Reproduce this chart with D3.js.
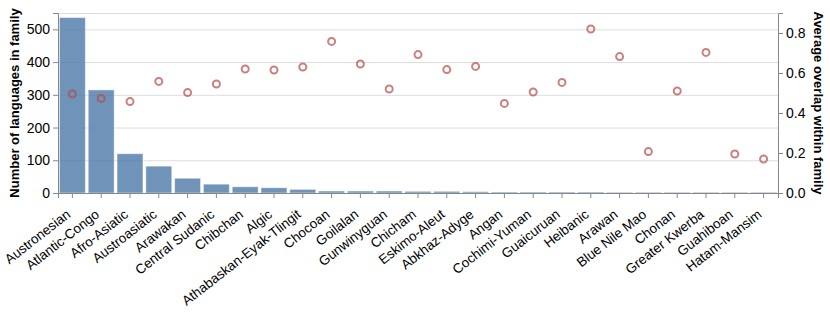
<!DOCTYPE html>
<html>
<head>
<meta charset="utf-8">
<script src="https://cdn.jsdelivr.net/npm/d3@7"></script>
<style>
  body { margin: 0; background: #fff; }
  text { font-family: "Liberation Sans", Arial, Helvetica, sans-serif; }
</style>
</head>
<body>
<svg id="chart" width="830" height="319"></svg>
<script>
// language families, sorted by number of languages
const families = ["Austronesian", "Atlantic-Congo", "Afro-Asiatic", "Austroasiatic", "Arawakan",
  "Central Sudanic", "Chibchan", "Algic", "Athabaskan-Eyak-Tlingit", "Chocoan", "Goilalan",
  "Gunwinyguan", "Chicham", "Eskimo-Aleut", "Abkhaz-Adyge", "Angan", "Cochimi-Yuman",
  "Guaicuruan", "Heibanic", "Arawan", "Blue Nile Mao", "Chonan", "Greater Kwerba",
  "Guahiboan", "Hatam-Mansim"];
// number of languages in each family
const counts = [536, 315, 120, 82, 45, 27, 19, 16, 11, 6, 6, 6, 5, 5, 4, 3, 3, 3, 3, 2, 2, 2, 2, 2, 2];
// average overlap within each family
const overlaps = [0.495, 0.473, 0.457, 0.558, 0.502, 0.545, 0.62, 0.615, 0.63, 0.758, 0.645,
  0.52, 0.692, 0.617, 0.633, 0.448, 0.505, 0.553, 0.82, 0.682, 0.207, 0.51, 0.703, 0.195, 0.17];
const countTicks = [0, 100, 200, 300, 400, 500];
const overlapTicks = [0, 0.2, 0.4, 0.6, 0.8];

const svg = d3.select("#chart");
const plotLeft = 58, plotRight = 778, plotTop = 13, plotBottom = 193;

let x = d3.scaleBand().domain(families).range([plotLeft, plotRight]).paddingInner(0.1).paddingOuter(0.05);
let yCount = d3.scaleLinear().domain([0, 550]).range([plotBottom, plotTop]);
let yOverlap = d3.scaleLinear().domain([0, 0.9]).range([plotBottom, plotTop]);

// gridlines for the left axis plus the frame top
svg.append("g")
   .selectAll("line")
   .data(countTicks)
   .enter()
   .append("line")
   .attr("x1", plotLeft).attr("x2", plotRight)
   .attr("y1", d => yCount(d) + 0.5).attr("y2", d => yCount(d) + 0.5)
   .attr("stroke", "#ddd");
svg.append("line")
   .attr("x1", plotLeft).attr("x2", plotRight)
   .attr("y1", plotTop + 0.5).attr("y2", plotTop + 0.5)
   .attr("stroke", "#ddd");

// bars
svg.append("g")
   .selectAll("rect")
   .data(families)
   .enter()
   .append("rect")
   .attr("x", d => x(d))
   .attr("width", x.bandwidth())
   .attr("y", (d, i) => yCount(counts[i]))
   .attr("height", (d, i) => plotBottom - yCount(counts[i]))
   .attr("fill", "#4c78a8")
   .attr("fill-opacity", 0.8)
   .attr("stroke", "#fff")
   .attr("stroke-opacity", 0.45)
   .attr("stroke-width", 1);

// overlap points
svg.append("g")
   .selectAll("circle")
   .data(families)
   .enter()
   .append("circle")
   .attr("cx", d => x(d) + x.bandwidth() / 2)
   .attr("cy", (d, i) => yOverlap(overlaps[i]))
   .attr("r", 3.5)
   .attr("fill", "none")
   .attr("stroke", "#b44a47")
   .attr("stroke-opacity", 0.7)
   .attr("stroke-width", 2);

function styleAxis(g, size) {
    g.selectAll(".domain").attr("stroke", "#888");
    g.selectAll(".tick line").attr("stroke", "#888");
    g.selectAll(".tick text").attr("fill", "#000").style("font-size", size);
}

// x axis
let xAxis = svg.append("g")
   .attr("transform", `translate(0,${plotBottom})`)
   .call(d3.axisBottom(x).tickSizeOuter(0).tickSize(5).tickPadding(3));
styleAxis(xAxis, "13.5px");
xAxis.selectAll(".tick text")
     .attr("text-anchor", "end")
     .attr("x", 0)
     .attr("y", 0)
     .attr("dy", 0)
     .attr("transform", "translate(-1,23) rotate(-38)");

// left axis
let yAxisL = svg.append("g")
   .attr("transform", `translate(${plotLeft},0)`)
   .call(d3.axisLeft(yCount).tickValues(countTicks).tickSizeOuter(0).tickSize(5).tickPadding(3));
styleAxis(yAxisL, "14px");

// right axis
let yAxisR = svg.append("g")
   .attr("transform", `translate(${plotRight},0)`)
   .call(d3.axisRight(yOverlap).tickValues(overlapTicks).tickFormat(d3.format(".1f")).tickSizeOuter(0).tickSize(5).tickPadding(3));
styleAxis(yAxisR, "14px");

// axis titles
svg.append("text")
   .attr("transform", `translate(19,${(plotTop + plotBottom) / 2}) rotate(-90)`)
   .attr("text-anchor", "middle")
   .style("font-size", "13px")
   .style("font-weight", "bold")
   .text("Number of languages in family");
svg.append("text")
   .attr("transform", `translate(814,${(plotTop + plotBottom) / 2}) rotate(90)`)
   .attr("text-anchor", "middle")
   .style("font-size", "13px")
   .style("font-weight", "bold")
   .text("Average overlap within family");
</script>
</body>
</html>
